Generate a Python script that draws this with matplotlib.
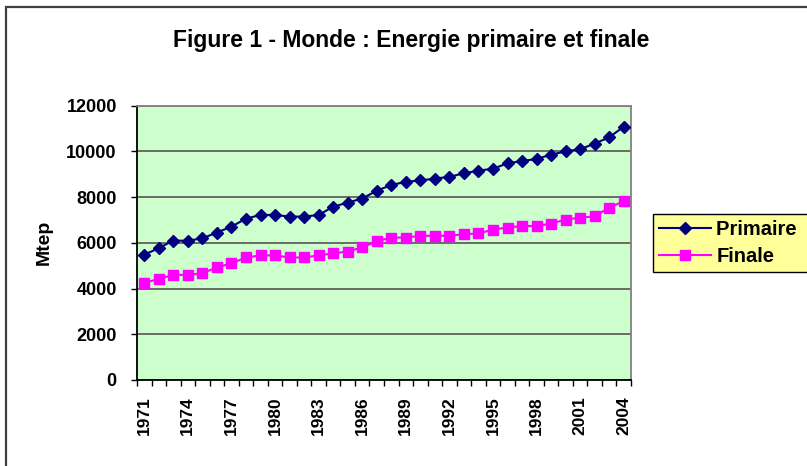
import matplotlib
matplotlib.use("Agg")
import numpy as np
import matplotlib.pyplot as plt
import matplotlib.patches as mpatches

plt.rcParams['font.family'] = ['Liberation Sans', 'DejaVu Sans']
plt.rcParams['font.weight'] = 'bold'

# data (Mtep)
years = list(range(1971, 2005))
primaire = [5480, 5770, 6100, 6090, 6200, 6450, 6710, 7060, 7220, 7220,
            7150, 7150, 7220, 7580, 7760, 7940, 8280, 8530, 8670, 8730,
            8810, 8890, 9040, 9160, 9240, 9480, 9580, 9670, 9860, 10000,
            10100, 10340, 10620, 11080]
finale = [4250, 4420, 4600, 4600, 4670, 4930, 5100, 5360, 5450, 5450,
          5360, 5360, 5450, 5540, 5620, 5800, 6070, 6230, 6230, 6310,
          6310, 6310, 6380, 6410, 6580, 6670, 6740, 6740, 6840, 7020,
          7100, 7160, 7540, 7820]
yticks = [0, 2000, 4000, 6000, 8000, 10000, 12000]

W, H = 807, 466
fig = plt.figure(figsize=(W / 100, H / 100), dpi=100)
ax = fig.add_axes([137 / W, 1 - 380 / H, 494 / W, 274.3 / H])
ax.set_facecolor('#CCFFCC')

x = np.arange(len(years))
ax.plot(x, primaire, color='#000080', lw=1.5, marker='D', ms=6.5,
        mfc='#000080', mec='#000080', label='Primaire  ', zorder=3)
ax.plot(x, finale, color='#FF00FF', lw=1.5, marker='s', ms=7.5,
        mfc='#FF00FF', mec='#FF00FF', label='Finale', zorder=3)

ax.set_xlim(-0.5, len(years) - 0.5)
ax.set_ylim(0, 12000)
ax.set_yticks(yticks)
ax.set_yticklabels([str(v) for v in yticks], fontsize=13, fontweight='bold')
ax.yaxis.grid(True, color='#606060', lw=1.3)
ax.set_axisbelow(True)

# labels every 3 years at the point centres, ticks on category boundaries
lab_idx = list(range(0, len(years), 3))
ax.set_xticks(lab_idx)
ax.set_xticklabels([str(years[i]) for i in lab_idx], rotation=90,
                   fontsize=12.5, fontweight='bold')
ax.set_xticks(np.arange(-0.5, len(years)), minor=True)
ax.tick_params(axis='x', which='major', length=0, pad=12)
ax.tick_params(axis='x', which='minor', length=4, width=1, direction='out')
ax.tick_params(axis='y', length=4, width=1, pad=10.5, direction='out')

for s in ['left', 'bottom']:
    ax.spines[s].set_color('black')
    ax.spines[s].set_linewidth(1.3)
for s in ['top', 'right']:
    ax.spines[s].set_color('#808080')
    ax.spines[s].set_linewidth(1.3)

ax.set_ylabel('Mtep', fontsize=14, fontweight='bold')
ax.yaxis.set_label_coords(-84 / 494, 0.5)

fig.text(411 / W, 1 - 41 / H, 'Figure 1 - Monde : Energie primaire et finale',
         ha='center', va='center', fontsize=16.5, fontweight='bold')

leg = fig.legend(loc='upper left', bbox_to_anchor=(653 / W, 1 - 214 / H),
                 bbox_transform=fig.transFigure, borderaxespad=0,
                 fontsize=14.5, handlelength=2.6, handletextpad=0.25,
                 borderpad=0.3, labelspacing=0.4, fancybox=False,
                 facecolor='#FFFF99', edgecolor='black', framealpha=1)
leg.get_frame().set_linewidth(1.0)

# outer chart frame (runs off the right and bottom edges)
frame = mpatches.Rectangle((6 / W, -0.1), 1.2, 1.1 - 7 / H, fill=False,
                           ec='#404040', lw=1.6, transform=fig.transFigure)
fig.patches.append(frame)

plt.savefig('out.png', dpi=100)
plt.close()
